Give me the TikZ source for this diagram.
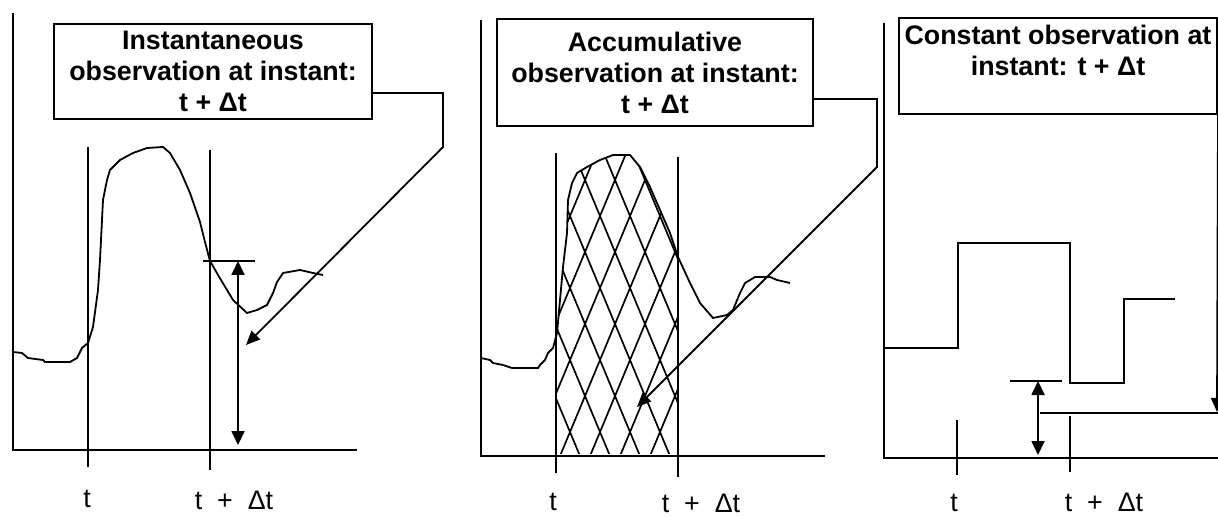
\documentclass[tikz,border=0pt]{standalone}
\usepackage{fontspec}
\setmainfont{Liberation Sans}
\usetikzlibrary{arrows.meta}

\begin{document}
\begin{tikzpicture}[x=0.5pt, y=-0.5pt,
  axisline/.style={line width=1pt},
  curveline/.style={line width=0.9pt},
  hatchline/.style={line width=0.85pt},
  obsbox/.style={draw, line width=1pt, align=center, inner sep=1pt,
                 font=\bfseries\fontsize{13.4}{15.5}\selectfont},
  ticklabel/.style={anchor=base, inner sep=0pt, font=\fontsize{13.4}{15}\selectfont},
  pointer/.style={line width=0.9pt, -{Triangle[length=7pt,width=6pt]}},
  dimarrow/.style={line width=0.9pt,
                   {Triangle[length=7pt,width=6.5pt]}-{Triangle[length=7pt,width=6.5pt]}}]

\useasboundingbox (0,0) rectangle (1218,517);

% ----------------- Signals (pixel coordinates, y downwards) -----------------
\def\sigA{(13,352) -- (22,353) -- (28,358) -- (43,360) -- (45,362) -- (70,362)
  -- (77,358) -- (82,348) -- (88,343) -- (93,327) -- (98,290) -- (100,260)
  -- (103,200) -- (107,180) -- (110,170) -- (120,160) -- (133,153) -- (147,148)
  -- (163,147) -- (170,153) -- (180,170) -- (190,193) -- (200,222) -- (205,242)
  -- (210,261) -- (218,275) -- (227,290) -- (233,300) -- (247,313) -- (257,310)
  -- (267,305) -- (273,293) -- (277,282) -- (283,273) -- (300,270) -- (313,273)
  -- (323,275)}
\def\sigB{(481,358) -- (490,360) -- (493,363) -- (503,365) -- (512,368) -- (538,368)
  -- (540,365) -- (545,360) -- (548,353) -- (553,348) -- (557,333) -- (560,300)
  -- (563,267) -- (567,233) -- (568,200) -- (572,183) -- (577,173) -- (587,167)
  -- (600,160) -- (613,155) -- (630,155) -- (640,167) -- (650,187) -- (660,210)
  -- (670,233) -- (678,257) -- (690,283) -- (700,303) -- (713,318) -- (727,315)
  -- (733,310) -- (740,293) -- (745,283) -- (755,277) -- (770,277) -- (777,280)
  -- (790,283)}

% ----------------- Panel 1: instantaneous -----------------
\draw[axisline] (13,13) -- (13,450) -- (357,450);
\draw[curveline] \sigA;
\draw[curveline] (88,147) -- (88,467);
\draw[curveline] (210,150) -- (210,470);
\draw[curveline] (203,261) -- (255,261);

\coordinate (v1) at (238,261);
\coordinate (z1) at (238,445);
\draw[dimarrow] (v1) -- (z1);

\node[obsbox, minimum width=159pt, minimum height=47.5pt] (box1) at (213,71.5)
  {Instantaneous\\observation at instant:\\t + Δt};

\coordinate (k1) at (443,93);
\coordinate (b1) at (443,147);
\coordinate (p1) at (246,345);
\draw[pointer] (box1.east |- k1) -- (k1) -- (b1) -- (p1);

\node[ticklabel] (t1)  at (87,507)  {t};
\node[ticklabel] (dt1) at (234,509) {t\ \ +\ \ Δt};

% ----------------- Panel 2: accumulative -----------------
\draw[axisline] (481,20) -- (481,456) -- (825,456);
\draw[curveline] \sigB;
\draw[curveline] (556,153) -- (556,473);
\draw[curveline] (678,157) -- (678,477);

% cross-hatching under the signal between t and t + dt
\begin{scope}
  \clip (556,140) rectangle (678,453);
  \clip \sigB -- (790,456) -- (481,456) -- cycle;
  \foreach \k in {-2,...,7}
    \draw[hatchline] (482.5+30*\k,150) -- (610+30*\k,456);
  \foreach \k in {-4,...,5}
    \draw[hatchline] (657.5+30*\k,150) -- (530+30*\k,456);
\end{scope}

\node[obsbox, minimum width=158pt, minimum height=53.5pt] (box2) at (655,72.5)
  {Accumulative\\observation at instant:\\t + Δt};

\coordinate (k2) at (877,99);
\coordinate (b2) at (877,167);
\coordinate (p2) at (637,407);
\draw[pointer] (box2.east |- k2) -- (k2) -- (b2) -- (p2);

\node[ticklabel] (t2)  at (553,510) {t};
\node[ticklabel] (dt2) at (701,512) {t\ \ +\ \ Δt};

% ----------------- Panel 3: constant -----------------
\draw[axisline] (884,23) -- (884,458) -- (1218,458);
\draw[curveline] (884,348) -| (958,243) -| (1070,383) -| (1124,299) -- (1175,299);
\draw[curveline] (957,420) -- (957,475);
\draw[curveline] (1070,416) -- (1070,472);
\draw[curveline] (1010,381) -- (1062,381);

\coordinate (v3) at (1038,381);
\coordinate (z3) at (1038,455);
\draw[dimarrow] (v3) -- (z3);

\coordinate (h3) at (1040,413);
\coordinate (e3) at (1218,413);
\draw[curveline] (h3) -- (e3);

\node[obsbox, minimum width=159pt, minimum height=48pt] (box3) at (1058,66)
  {Constant observation at\\instant: t + Δt\\ \mbox{}};

\coordinate (p3) at (1217,412);
\draw[pointer] (box3.south east) -- (p3);

\node[ticklabel] (t3)  at (954,511)  {t};
\node[ticklabel] (dt3) at (1104,511) {t\ \ +\ \ Δt};

\end{tikzpicture}
\end{document}
